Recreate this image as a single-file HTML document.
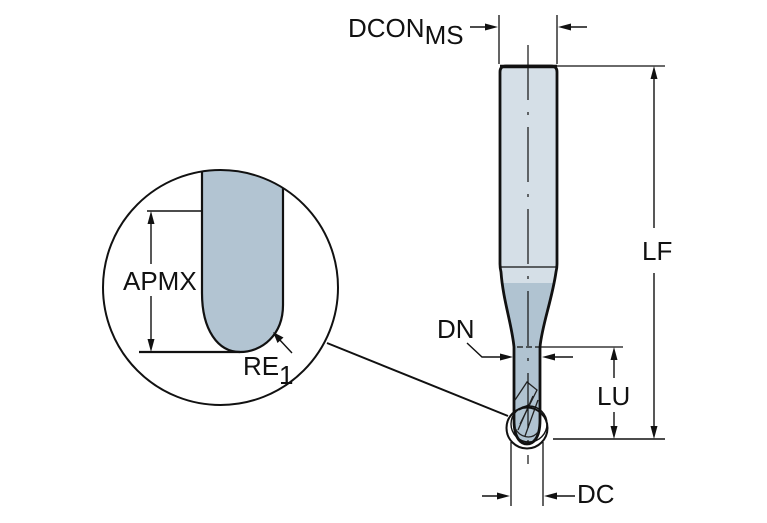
<!DOCTYPE html>
<html><head><meta charset="utf-8"><style>
html,body{margin:0;padding:0;background:#fff;}
svg{display:block;}
text{font-family:"Liberation Sans",Arial,sans-serif;font-size:26px;fill:#111;}
</style></head><body>
<svg width="767" height="523" viewBox="0 0 767 523" xmlns="http://www.w3.org/2000/svg">
<defs>
<linearGradient id="g" x1="0" y1="66" x2="0" y2="444" gradientUnits="userSpaceOnUse">
<stop offset="0" stop-color="#d5dfe7"/>
<stop offset="0.574" stop-color="#d5dfe7"/>
<stop offset="0.574" stop-color="#b0c3d1"/>
<stop offset="1" stop-color="#b0c3d1"/>
</linearGradient>
</defs>

<!-- Detail circle -->
<path d="M202,171.5 L202,293 C202,330 218,352 240,352 C262,352 283,335 283,305 L283,188 A117.5,117.5 0 0 0 202,171.5 Z" fill="#b2c4d2"/>
<path d="M202,171.5 L202,293 C202,330 218,352 240,352 C262,352 283,335 283,305 L283,188" fill="none" stroke="#111" stroke-width="2.2"/>
<circle cx="220.5" cy="287.5" r="117.5" fill="none" stroke="#111" stroke-width="2"/>
<line x1="327" y1="343" x2="508" y2="416" stroke="#111" stroke-width="2"/>

<!-- APMX -->
<line x1="147" y1="211" x2="202" y2="211" stroke="#111" stroke-width="1.4"/>
<line x1="139" y1="352" x2="240" y2="352" stroke="#111" stroke-width="2.2"/>
<line x1="151" y1="215" x2="151" y2="264" stroke="#111" stroke-width="1.4"/>
<line x1="151" y1="296" x2="151" y2="348" stroke="#111" stroke-width="1.4"/>
<polygon points="151,211 147.5,224 154.5,224" fill="#111"/>
<polygon points="151,352 147.5,339 154.5,339" fill="#111"/>
<text x="123" y="290">APMX</text>

<!-- RE1 -->
<line x1="292" y1="353" x2="278" y2="338" stroke="#111" stroke-width="1.4"/>
<polygon points="273,332 283.5,337.5 277.5,343" fill="#111"/>
<text x="243" y="375">RE</text>
<text x="279" y="384">1</text>

<!-- Tool body -->
<path d="M500,72 Q500,66 506,66 H551 Q557,66 557,72 V264 Q557,268 556,272 C552,300 542,325 540,347 V420 C540,440 532,444 527,444 C522,444 514,440 514,420 V347 C512,325 503,300 501,272 Q500,268 500,264 Z" fill="url(#g)" stroke="#111" stroke-width="2.8"/>
<line x1="500" y1="66.5" x2="557" y2="66.5" stroke="#111" stroke-width="3.5"/>
<line x1="501" y1="267" x2="556" y2="267" stroke="#111" stroke-width="1.2"/>

<!-- flutes -->
<g fill="none" stroke="#222" stroke-width="1.3">
<path d="M515,400 L527,382 L537,390 L520,424"/>
<path d="M533,396 L518,430"/>
<path d="M538,400 L525,436"/>
<path d="M515,428 C520,438 532,440 538,432"/>
<path d="M519,410 L530,404"/>
</g>
<circle cx="527" cy="428" r="20.5" fill="none" stroke="#111" stroke-width="2"/>
<circle cx="529" cy="424" r="18" fill="none" stroke="#111" stroke-width="1.4"/>

<!-- centerline -->
<line x1="528" y1="45" x2="528" y2="464" stroke="#111" stroke-width="1.2" stroke-dasharray="55 12 3 12"/>

<!-- DCON_MS -->
<line x1="499" y1="15" x2="499" y2="64" stroke="#111" stroke-width="1.3"/>
<line x1="557" y1="15" x2="557" y2="64" stroke="#111" stroke-width="1.3"/>
<line x1="470" y1="27" x2="488" y2="27" stroke="#111" stroke-width="1.4"/>
<polygon points="498,27 485,23.5 485,30.5" fill="#111"/>
<line x1="568" y1="27" x2="587" y2="27" stroke="#111" stroke-width="1.4"/>
<polygon points="558,27 571,23.5 571,30.5" fill="#111"/>
<text x="348" y="37">DCON<tspan dy="7">MS</tspan></text>

<!-- LF -->
<line x1="557" y1="66" x2="665" y2="66" stroke="#111" stroke-width="1.3"/>
<line x1="654" y1="70" x2="654" y2="228" stroke="#111" stroke-width="1.4"/>
<line x1="654" y1="273" x2="654" y2="435" stroke="#111" stroke-width="1.4"/>
<polygon points="654,66 650.5,79 657.5,79" fill="#111"/>
<polygon points="654,439 650.5,426 657.5,426" fill="#111"/>
<text x="642" y="260">LF</text>

<!-- LU -->
<line x1="517" y1="347" x2="540" y2="347" stroke="#111" stroke-width="1.3" stroke-dasharray="6 3"/>
<line x1="540" y1="347" x2="623" y2="347" stroke="#111" stroke-width="1.3"/>
<line x1="553" y1="439" x2="665" y2="439" stroke="#111" stroke-width="1.4"/>
<line x1="614" y1="351" x2="614" y2="378" stroke="#111" stroke-width="1.4"/>
<line x1="614" y1="412" x2="614" y2="435" stroke="#111" stroke-width="1.4"/>
<polygon points="614,347 610.5,360 617.5,360" fill="#111"/>
<polygon points="614,439 610.5,426 617.5,426" fill="#111"/>
<text x="597" y="405">LU</text>

<!-- DN -->
<polyline points="467,343 482,357 503,357" fill="none" stroke="#111" stroke-width="1.4"/>
<polygon points="513,357 500,353.5 500,360.5" fill="#111"/>
<line x1="552" y1="357" x2="573" y2="357" stroke="#111" stroke-width="1.4"/>
<polygon points="542,357 555,353.5 555,360.5" fill="#111"/>
<text x="437" y="338">DN</text>

<!-- DC -->
<line x1="511" y1="442" x2="511" y2="506" stroke="#111" stroke-width="1.3"/>
<line x1="543" y1="442" x2="543" y2="506" stroke="#111" stroke-width="1.3"/>
<line x1="482" y1="496" x2="500" y2="496" stroke="#111" stroke-width="1.4"/>
<polygon points="510,496 497,492.5 497,499.5" fill="#111"/>
<line x1="554" y1="496" x2="575" y2="496" stroke="#111" stroke-width="1.4"/>
<polygon points="544,496 557,492.5 557,499.5" fill="#111"/>
<text x="577" y="503">DC</text>
</svg>
</body></html>
